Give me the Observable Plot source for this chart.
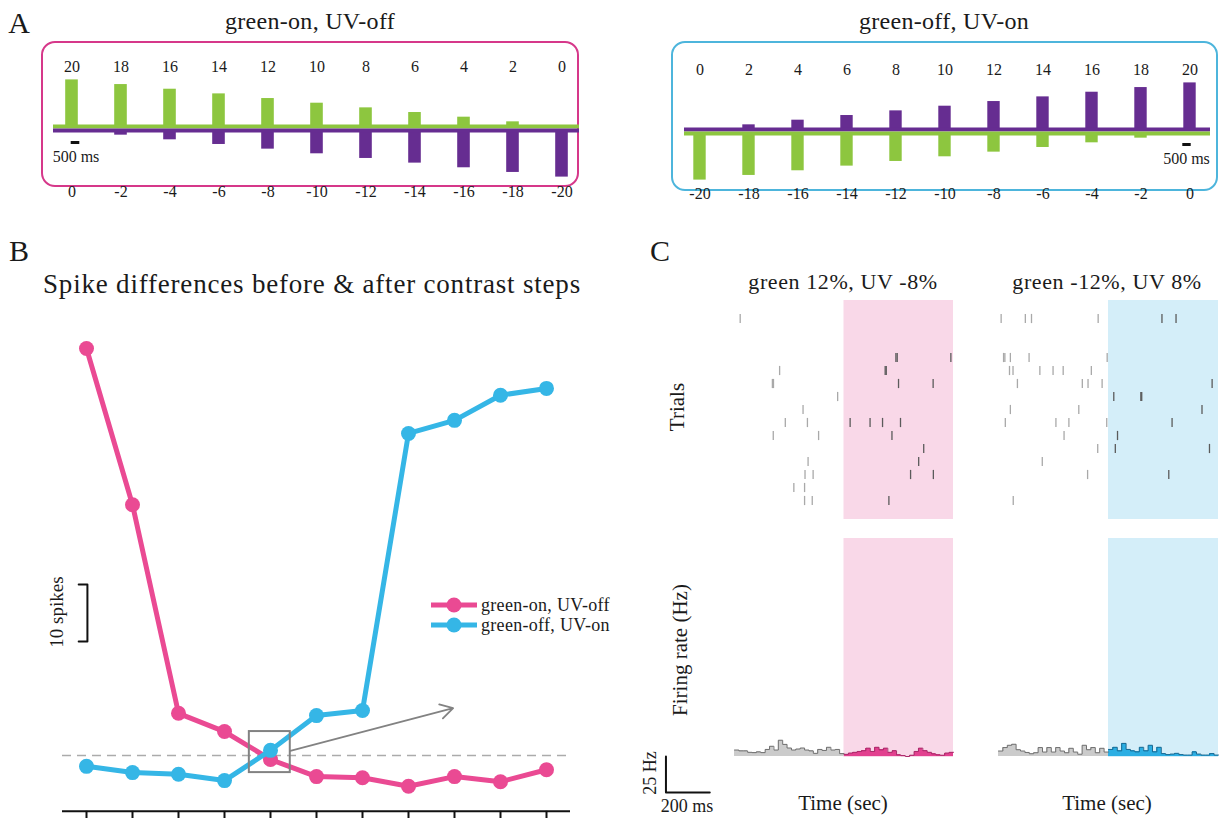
<!DOCTYPE html>
<html>
<head>
<meta charset="utf-8">
<script src="https://cdn.jsdelivr.net/npm/d3@7"></script>
<script src="https://cdn.jsdelivr.net/npm/@observablehq/plot@0.6"></script>
<style>
  body { margin: 0; background: #fff; }
  #fig { position: relative; width: 1219px; height: 818px; overflow: hidden;
         font-family: "Liberation Serif", "DejaVu Serif", serif; color: #1a1a1a; background:#fff; }
  .lbl { position: absolute; white-space: nowrap; line-height: 1.15; transform: translate(-50%, -50%); }
  .rot { position: absolute; white-space: nowrap; line-height: 1.15; transform: translate(-50%, -50%) rotate(-90deg); }
  .box { position: absolute; box-sizing: border-box; border-radius: 14px; }
  .leg { position: absolute; display: flex; align-items: center; gap: 4px; height: 20px; font-size: 18px; letter-spacing: 0.3px; white-space: nowrap; }
</style>
</head>
<body>
<div id="fig"></div>
<script>
// ---------------- DATA ----------------
// Panel A: contrast step sequences (percent)
const stepGreenOn  = [20, 18, 16, 14, 12, 10, 8, 6, 4, 2, 0];
const stepUvOff    = [0, -2, -4, -6, -8, -10, -12, -14, -16, -18, -20];
const stepUvOn     = [0, 2, 4, 6, 8, 10, 12, 14, 16, 18, 20];
const stepGreenOff = [-20, -18, -16, -14, -12, -10, -8, -6, -4, -2, 0];
const stepDurationLabel = "500 ms";

// Panel B: spike differences (after - before) per step
const spikeDiffGreenOnUvOff = [71.4, 44.0, 7.4, 4.2, -0.7, -3.7, -3.9, -5.4, -3.7, -4.6, -2.5];
const spikeDiffGreenOffUvOn = [-1.9, -3.0, -3.3, -4.4, 0.9, 7.0, 7.9, 56.5, 58.8, 63.2, 64.4];
const seriesNames = ["green-on, UV-off", "green-off, UV-on"];
const zoomBox = [{x1: 3.54, x2: 4.43, y1: -3.0, y2: 4.2}];
const zoomArrow = [{x1: 4.43, y1: 0.8, x2: 7.97, y2: 8.3}];
const spikeScale = [{x: -0.17, y: 30}, {x: 0.02, y: 30}, {x: 0.02, y: 20}, {x: -0.17, y: 20}];

// Panel C: raster spikes [trial, time ms] (stimulus step at 0 ms)
const spikesGreenOnUvOff = [
  [0,-474],[3,237],[3,243],[3,488],[4,-294],[4,188],[4,193],[5,-327],[5,-322],[5,249],[5,407],
  [6,-29],[7,-187],[8,-268],[8,-167],[8,28],[8,119],[8,176],[8,258],[9,-323],[9,-116],[9,219],
  [10,364],[11,-164],[11,341],[12,-178],[12,-141],[12,304],[12,408],[13,-229],[13,-180],
  [14,-180],[14,-145],[14,205]
];
const spikesGreenOffUvOn = [
  [0,-488],[0,-378],[0,-350],[0,-47],[0,243],[0,307],[3,-477],[3,-471],[3,-446],[3,-361],[3,-6],
  [4,-450],[4,-434],[4,-312],[4,-252],[4,-206],[4,-78],[5,-414],[5,-119],[5,-93],[5,-29],[5,471],
  [6,24],[6,147],[6,151],[7,-446],[7,-135],[7,425],[8,-469],[8,-239],[8,-180],[8,-8],[8,289],
  [9,-202],[9,41],[10,-49],[10,31],[10,459],[11,-301],[12,-95],[12,274],[14,-433]
];
const trials = d3.range(15);
const stimWindow = [{start: 0, end: 500}];

// Panel C: firing rate (Hz), 20 ms bins, before (-500..0) and after (0..500)
const rateGreenOnBefore  = [4.5,3.9,3.9,2.9,2.7,3.2,2.7,4.9,7.1,4.5,11.3,8.4,5.9,4.5,5.2,5.9,4.5,3.9,2.2,4.9,4.2,6.4,4.5,4.9,2.0];
const rateGreenOnAfter   = [1.5,2.4,2.9,3.5,4.0,5.8,3.5,6.4,4.6,5.8,2.9,4.0,1.1,0.6,0.0,0.9,3.5,5.8,4.0,2.9,1.8,1.1,0.9,2.4,2.9];
const rateGreenOffBefore = [3.8,6.2,7.8,8.5,4.7,3.8,2.8,1.9,2.6,6.2,3.1,6.2,3.1,6.2,3.8,2.6,5.7,3.1,1.6,7.8,4.7,6.2,2.6,5.7,3.1];
const rateGreenOffAfter  = [4.9,6.4,3.9,9.1,4.9,3.9,3.2,6.4,3.9,7.8,3.2,6.4,2.0,1.3,1.7,2.2,1.3,1.0,1.0,3.2,1.7,1.0,1.0,2.0,1.0];
const binMs = 20;
const rateScaleBar = [{t: -813, hz: 0}, {t: -813, hz: -25}, {t: -613, hz: -25}];

// ---------------- STYLE ----------------
const GREEN = "#8dc63f", PURPLE = "#662d91";
const PINK = "#ea4a93", CYAN = "#35b6e6";
const PINK_BOX = "#d6388a", CYAN_BOX = "#4db5dc";
const PINK_SHADE = "#f9d8e8", CYAN_SHADE = "#d4eef9";
const FONT = "'Liberation Serif', 'DejaVu Serif', serif";

const fig = document.getElementById("fig");
function place(svg, left, top) {
  svg.style.position = "absolute";
  svg.style.left = left + "px";
  svg.style.top = top + "px";
  svg.style.background = "transparent";
  svg.style.overflow = "visible";
  svg.style.maxWidth = "none";
  svg.style.fontFamily = FONT;
  fig.appendChild(svg);
}
function label(text, x, y, size, extra = "", cls = "lbl") {
  const d = document.createElement("div");
  d.className = cls;
  d.textContent = text;
  d.style.left = x + "px";
  d.style.top = y + "px";
  d.style.fontSize = size + "px";
  if (extra) d.style.cssText += extra;
  fig.appendChild(d);
}
function box(x, y, w, h, color) {
  const d = document.createElement("div");
  d.className = "box";
  Object.assign(d.style, {left: x + "px", top: y + "px", width: w + "px", height: h + "px", border: `2px solid ${color}`});
  fig.appendChild(d);
}

const idx = d3.range(11);
const TXT = {fontSize: 16, fill: "#1a1a1a", lineAnchor: "middle"};

// ---------------- PANEL A ----------------
box(41, 41, 538, 146, PINK_BOX);
box(671, 41, 547, 150, CYAN_BOX);

place(Plot.plot({
  width: 610, height: 165, marginLeft: 53, marginRight: 31, marginTop: 0, marginBottom: 0,
  x: {type: "band", domain: idx, range: [44.3, 587.7], padding: 0, axis: null},
  y: {domain: [-30, 30], range: [157.9, 18.1], axis: null},
  marks: [
    Plot.barY(idx, {x: i => i, y1: 0, y2: i => stepGreenOn[i], fill: GREEN, insetLeft: 18.2, insetRight: 18.2, dy: -2}),
    Plot.barY(idx, {x: i => i, y1: 0, y2: i => stepUvOff[i], fill: PURPLE, insetLeft: 18.2, insetRight: 18.2, dy: 2}),
    Plot.ruleY([0], {stroke: GREEN, strokeWidth: 4, dy: -2}),
    Plot.ruleY([0], {stroke: PURPLE, strokeWidth: 4, dy: 2}),
    Plot.text(idx, {x: i => i, frameAnchor: "top", dy: 26, text: i => String(stepGreenOn[i]), ...TXT}),
    Plot.text(idx, {x: i => i, frameAnchor: "bottom", dy: -14, text: i => String(stepUvOff[i]), ...TXT}),
    Plot.barY([0], {x: d => d, y1: -5.58, y2: -6.87, fill: "#111", insetLeft: 23.7, insetRight: 16.7}),
    Plot.text([0], {x: d => d, y: -12, dx: 4, text: () => stepDurationLabel, ...TXT})
  ]
}), 0, 40);

place(Plot.plot({
  width: 599, height: 165, marginLeft: 64, marginRight: 9, marginTop: 0, marginBottom: 0,
  x: {type: "band", domain: idx, range: [51.7, 597.3], padding: 0, axis: null},
  y: {domain: [-30, 30], range: [160.9, 21.1], axis: null},
  marks: [
    Plot.barY(idx, {x: i => i, y1: 0, y2: i => stepUvOn[i], fill: PURPLE, insetLeft: 18.3, insetRight: 18.3, dy: -2}),
    Plot.barY(idx, {x: i => i, y1: 0, y2: i => stepGreenOff[i], fill: GREEN, insetLeft: 18.3, insetRight: 18.3, dy: 2}),
    Plot.ruleY([0], {stroke: PURPLE, strokeWidth: 4, dy: -2}),
    Plot.ruleY([0], {stroke: GREEN, strokeWidth: 4, dy: 2}),
    Plot.text(idx, {x: i => i, frameAnchor: "top", dy: 29, text: i => String(stepUvOn[i]), ...TXT}),
    Plot.text(idx, {x: i => i, frameAnchor: "bottom", dy: -12, text: i => String(stepGreenOff[i]), ...TXT}),
    Plot.barY([10], {x: d => d, y1: -5.15, y2: -6.44, fill: "#111", insetLeft: 17.3, insetRight: 23.3}),
    Plot.text([10], {x: d => d, y: -11.6, dx: -3.5, text: () => stepDurationLabel, ...TXT})
  ]
}), 620, 40);

label("A", 19, 23, 30);
label("green-on, UV-off", 310, 22, 24, "letter-spacing:0.3px;");
label("green-off, UV-on", 944, 22, 24, "letter-spacing:0.3px;");

// ---------------- PANEL B ----------------
place(Plot.plot({
  width: 620, height: 518, marginLeft: 62, marginRight: 50, marginTop: 0, marginBottom: 0,
  x: {domain: [0, 10], range: [86, 546], axis: null},
  y: {domain: [-10, 80], range: [512, -1], axis: null},
  marks: [
    Plot.ruleY([0], {stroke: "#ababab", strokeWidth: 1.5, strokeDasharray: "9,6"}),
    Plot.ruleY([-9.8], {stroke: "#111", strokeWidth: 2}),
    Plot.ruleX(idx, {x: i => i, y1: -9.8, y2: -14, stroke: "#111", strokeWidth: 2}),
    Plot.line(spikeScale, {x: "x", y: "y", stroke: "#111", strokeWidth: 2}),
    Plot.line(idx, {x: i => i, y: i => spikeDiffGreenOnUvOff[i], stroke: PINK, strokeWidth: 5}),
    Plot.dot(idx, {x: i => i, y: i => spikeDiffGreenOnUvOff[i], r: 7.5, fill: PINK}),
    Plot.line(idx, {x: i => i, y: i => spikeDiffGreenOffUvOn[i], stroke: CYAN, strokeWidth: 5}),
    Plot.dot(idx, {x: i => i, y: i => spikeDiffGreenOffUvOn[i], r: 7.5, fill: CYAN}),
    Plot.rect(zoomBox, {x1: "x1", x2: "x2", y1: "y1", y2: "y2", fill: "none", stroke: "#828282", strokeWidth: 2}),
    Plot.arrow(zoomArrow, {x1: "x1", y1: "y1", x2: "x2", y2: "y2", stroke: "#828282", strokeWidth: 1.8, headLength: 12})
  ]
}), 0, 300);

label("B", 19, 251, 30);
label("Spike differences before & after contrast steps", 312, 285, 27, "letter-spacing:0.8px;");
label("10 spikes", 57, 612, 19, "", "rot");

function legendRow(name, color, top) {
  const d = document.createElement("div");
  d.className = "leg";
  d.style.left = "431px";
  d.style.top = top + "px";
  d.innerHTML = `<svg width="46" height="20"><line x1="0" x2="46" y1="10" y2="10" stroke="${color}" stroke-width="5"/><circle cx="23" cy="10" r="7.5" fill="${color}"/></svg><span>${name}</span>`;
  fig.appendChild(d);
}
legendRow(seriesNames[0], PINK, 595);
legendRow(seriesNames[1], CYAN, 615);

// ---------------- PANEL C ----------------
function raster(spikes, left, width, xr, shade) {
  place(Plot.plot({
    width, height: 240, marginLeft: 0, marginRight: 0, marginTop: 10, marginBottom: 11,
    x: {domain: [-500, 500], range: xr, axis: null},
    y: {type: "band", domain: trials, range: [16.1, 222.9], padding: 0, axis: null},
    marks: [
      Plot.rect(stimWindow, {x1: "start", x2: "end", fill: shade}),
      Plot.tickX(spikes.filter(d => d[1] < 0), {x: d => d[1], y: d => d[0], stroke: "#a9a9a9", strokeWidth: 1.3, insetTop: 1.9, insetBottom: 1.9}),
      Plot.tickX(spikes.filter(d => d[1] >= 0), {x: d => d[1], y: d => d[0], stroke: "#5b5b5b", strokeWidth: 1.3, insetTop: 1.9, insetBottom: 1.9})
    ]
  }), left, 290);
}
function bins(rates, start) {
  return rates.map((hz, i) => ({t0: start + i * binMs, t1: start + (i + 1) * binMs, hz}));
}
function outline(b) {
  return b.flatMap(d => [{t: d.t0, hz: d.hz}, {t: d.t1, hz: d.hz}]);
}
function histo(before, after, left, width, xr, shade, fillAfter, strokeAfter, withScale) {
  const bb = bins(before, -500), ba = bins(after, 0);
  place(Plot.plot({
    width, height: 288, marginLeft: 0, marginRight: 0, marginTop: 0, marginBottom: 0,
    x: {domain: [-500, 500], range: xr, axis: null},
    y: {domain: [0, 100], range: [226, 82], axis: null},
    marks: [
      Plot.rect(stimWindow, {x1: "start", x2: "end", y1: -0.7, y2: 151.4, fill: shade}),
      Plot.rectY(bb, {x1: "t0", x2: "t1", y: "hz", fill: "#cbcbcb", shapeRendering: "crispEdges"}),
      Plot.rectY(ba, {x1: "t0", x2: "t1", y: "hz", fill: fillAfter, shapeRendering: "crispEdges"}),
      Plot.line(outline(bb), {x: "t", y: "hz", stroke: "#6f6f6f", strokeWidth: 1}),
      Plot.line(outline(ba), {x: "t", y: "hz", stroke: strokeAfter, strokeWidth: 1}),
      withScale ? Plot.line(rateScaleBar, {x: "t", y: "hz", stroke: "#111", strokeWidth: 2}) : null
    ]
  }), left, 530);
}

raster(spikesGreenOnUvOff, 640, 330, [94, 313], PINK_SHADE);
raster(spikesGreenOffUvOn, 980, 239, [18, 238], CYAN_SHADE);
histo(rateGreenOnBefore, rateGreenOnAfter, 640, 330, [94, 313], PINK_SHADE, "#e2408f", "#a82a69", true);
histo(rateGreenOffBefore, rateGreenOffAfter, 980, 239, [18, 238], CYAN_SHADE, "#2baee3", "#1d6a92", false);

label("C", 660, 251, 30);
label("green 12%, UV -8%", 843, 282, 22, "letter-spacing:0.6px;");
label("green -12%, UV 8%", 1107, 282, 22, "letter-spacing:0.6px;");
label("Trials", 677, 407, 21, "", "rot");
label("Firing rate (Hz)", 680, 650, 21, "", "rot");
label("25 Hz", 650, 773, 18, "", "rot");
label("200 ms", 687, 806, 18);
label("Time (sec)", 843, 803, 21);
label("Time (sec)", 1107, 803, 21);
</script>
</body>
</html>
